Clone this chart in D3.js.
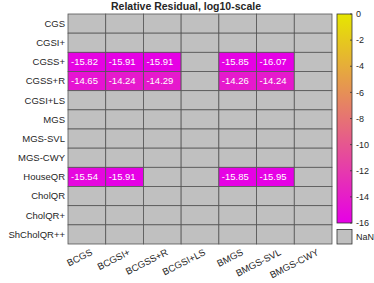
<!DOCTYPE html>
<html lang="en">
<head>
	<meta charset="UTF-8"/>
	<title>Relative Residual heatmap</title>
	<script src="https://d3js.org/d3.v7.min.js"></script>
	<style>
		body { margin: 0; background: #fff; }
		svg { font-family: "Liberation Sans", Arial, sans-serif; }
	</style>
</head>
<body>
	<script>
		var rows = ["CGS","CGSI+","CGSS+","CGSS+R","CGSI+LS","MGS","MGS-SVL","MGS-CWY","HouseQR","CholQR","CholQR+","ShCholQR++"];
		var cols = ["BCGS","BCGSI+","BCGSS+R","BCGSI+LS","BMGS","BMGS-SVL","BMGS-CWY"];

		// one array per row, null = NaN
		var valCGS      = [null,null,null,null,null,null,null];
		var valCGSIp    = [null,null,null,null,null,null,null];
		var valCGSSp    = [-15.82,-15.91,-15.91,null,-15.85,-16.07,null];
		var valCGSSpR   = [-14.65,-14.24,-14.29,null,-14.26,-14.24,null];
		var valCGSIpLS  = [null,null,null,null,null,null,null];
		var valMGS      = [null,null,null,null,null,null,null];
		var valMGSSVL   = [null,null,null,null,null,null,null];
		var valMGSCWY   = [null,null,null,null,null,null,null];
		var valHouseQR  = [-15.54,-15.91,null,null,-15.85,-15.95,null];
		var valCholQR   = [null,null,null,null,null,null,null];
		var valCholQRp  = [null,null,null,null,null,null,null];
		var valShChol   = [null,null,null,null,null,null,null];
		var values = [valCGS,valCGSIp,valCGSSp,valCGSSpR,valCGSIpLS,valMGS,valMGSSVL,valMGSCWY,valHouseQR,valCholQR,valCholQRp,valShChol];

		var cbTicks = [0,-2,-4,-6,-8,-10,-12,-14,-16];

		var w = 374, h = 283;
		var gLeft = 68, gTop = 14, gRight = 332, gBottom = 244;

		var svg = d3.select("body").append("svg").attr("width",w).attr("height",h);

		var xScale = d3.scaleBand().domain(cols).range([gLeft,gRight]);
		var yScale = d3.scaleBand().domain(rows).range([gTop,gBottom]);

		// spring colormap, a bit darkened
		function spring(v){
			var t = Math.max(0, Math.min(1, (v + 16) / 16));
			return d3.rgb(230, Math.round(230*t), Math.round(230*(1-t)));
		}

		var cells = [];
		values.forEach(function(r,i){
			r.forEach(function(v,j){
				cells.push({row: rows[i], col: cols[j], v: v});
			});
		});

		svg.selectAll("rect.cell").data(cells).enter().append("rect")
			.attr("class","cell")
			.attr("x",function(d){ return xScale(d.col); })
			.attr("y",function(d){ return yScale(d.row); })
			.attr("width",xScale.bandwidth())
			.attr("height",yScale.bandwidth())
			.attr("fill",function(d){ return d.v === null ? "#c0c0c0" : spring(d.v); })
			.attr("stroke","#555")
			.attr("stroke-width",0.8);

		svg.selectAll("text.val").data(cells.filter(function(d){ return d.v !== null; })).enter().append("text")
			.attr("class","val")
			.attr("x",function(d){ return xScale(d.col) + 3; })
			.attr("y",function(d){ return yScale(d.row) + yScale.bandwidth()/2; })
			.attr("dy","0.35em")
			.attr("font-size","9.5px")
			.attr("fill","#fff")
			.text(function(d){ return d.v.toFixed(2); });

		// row labels
		svg.selectAll("text.rlab").data(rows).enter().append("text")
			.attr("class","rlab")
			.attr("x",gLeft - 3)
			.attr("y",function(d){ return yScale(d) + yScale.bandwidth()/2; })
			.attr("dy","0.35em")
			.attr("text-anchor","end")
			.attr("font-size","9.5px")
			.attr("fill","#262626")
			.text(function(d){ return d; });

		// column labels, rotated
		svg.selectAll("text.clab").data(cols).enter().append("text")
			.attr("class","clab")
			.attr("transform",function(d){
				return "translate(" + (xScale(d) + xScale.bandwidth()/2 + 3) + "," + (gBottom + 4) + ") rotate(-27)";
			})
			.attr("dy","0.75em")
			.attr("text-anchor","end")
			.attr("font-size","9.5px")
			.attr("fill","#262626")
			.text(function(d){ return d; });

		// title, centred on the whole figure
		svg.append("text")
			.attr("x",186)
			.attr("y",10)
			.attr("text-anchor","middle")
			.attr("font-size","10.5px")
			.attr("font-weight","bold")
			.attr("fill","#262626")
			.text("Relative Residual, log10-scale");

		// colorbar
		var cbX = 337, cbW = 15, cbTop = 14, cbBot = 223;
		var cScale = d3.scaleLinear().domain([-16,0]).range([cbBot,cbTop]);
		var defs = svg.append("defs");
		var grad = defs.append("linearGradient").attr("id","cbgrad")
			.attr("x1","0").attr("y1","1").attr("x2","0").attr("y2","0");
		d3.range(0,17).forEach(function(k){
			grad.append("stop").attr("offset",(k/16)).attr("stop-color",spring(k-16));
		});
		svg.append("rect")
			.attr("x",cbX).attr("y",cbTop).attr("width",cbW).attr("height",cbBot-cbTop)
			.attr("fill","url(#cbgrad)")
			.attr("stroke","#333").attr("stroke-width",0.8);

		var cbTickG = svg.selectAll("g.cbt").data(cbTicks).enter().append("g")
			.attr("class","cbt")
			.attr("transform",function(d){ return "translate(" + (cbX+cbW) + "," + cScale(d) + ")"; });
		cbTickG.append("line").attr("x1",-2).attr("x2",0).attr("stroke","#333").attr("stroke-width",0.8);
		cbTickG.append("text")
			.attr("x",4)
			.attr("dy","0.35em")
			.attr("font-size","9px")
			.attr("fill","#262626")
			.text(function(d){ return d; });

		// NaN box
		svg.append("rect")
			.attr("x",cbX).attr("y",229.5).attr("width",cbW).attr("height",14.5)
			.attr("fill","#c0c0c0").attr("stroke","#333").attr("stroke-width",0.8);
		svg.append("text")
			.attr("x",cbX+cbW+4).attr("y",237)
			.attr("dy","0.35em")
			.attr("font-size","9px")
			.attr("fill","#262626")
			.text("NaN");
	</script>
</body>
</html>
